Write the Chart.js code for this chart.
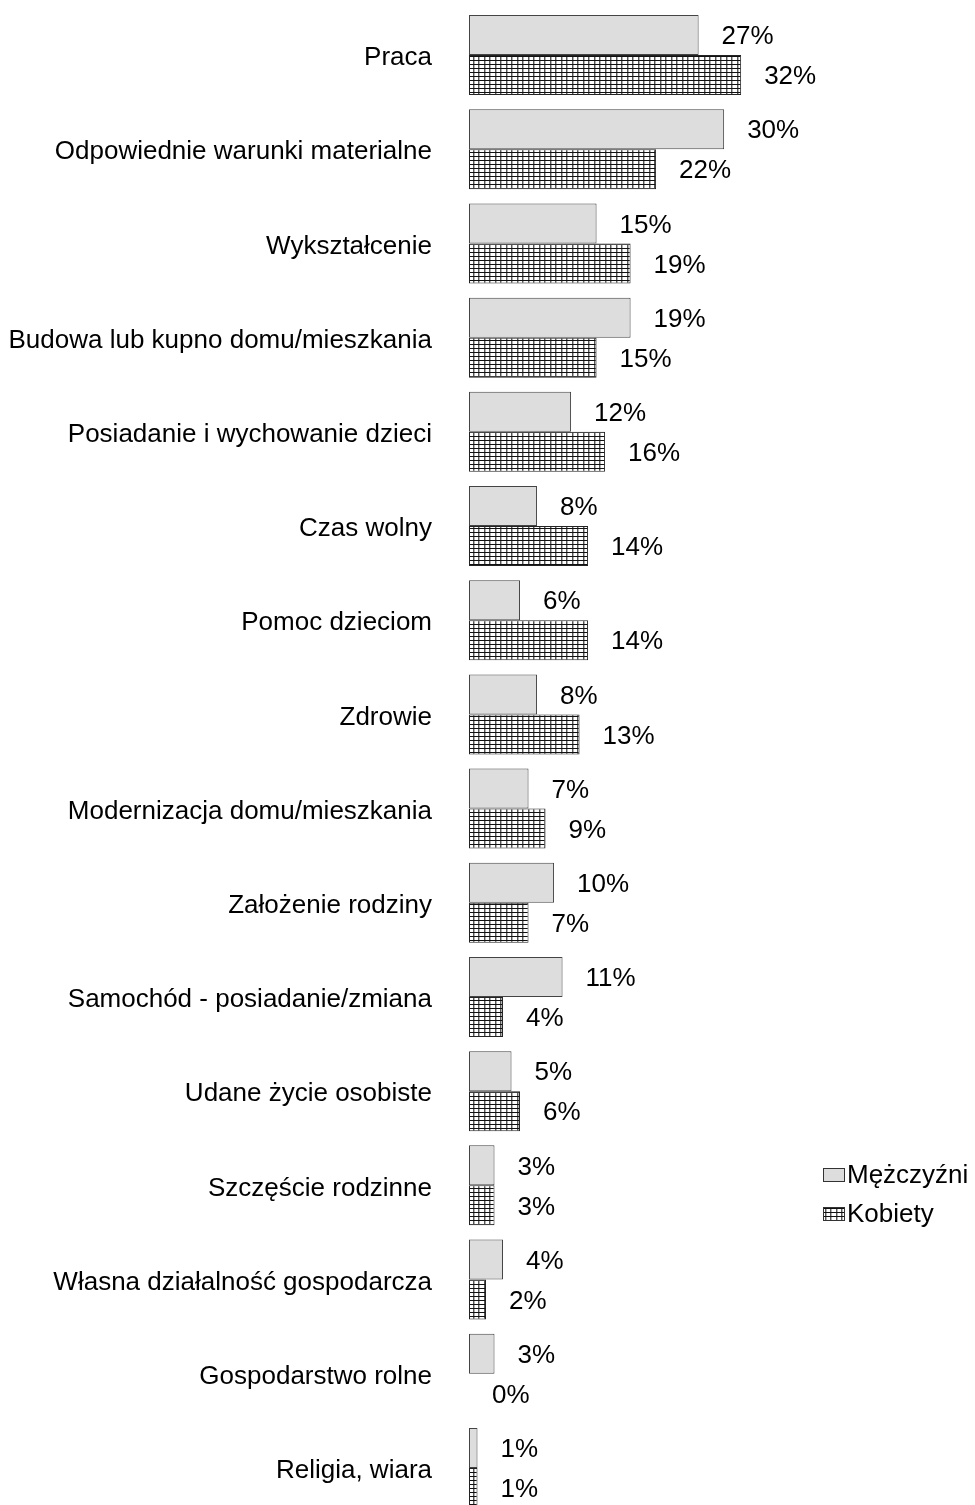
<!DOCTYPE html>
<html lang="pl">
<head>
    <meta charset="UTF-8">
    <title>Wykres</title>
    <script src="https://cdn.jsdelivr.net/npm/chart.js@4.4.1/dist/chart.umd.min.js"></script>
    <style>
        html, body { margin: 0; padding: 0; background: #fff; overflow: hidden; }
    </style>
</head>
<body>
    <canvas id="myChart" width="975" height="1515"></canvas>
    <script>
        const categories = [
            'Praca',
            'Odpowiednie warunki materialne',
            'Wykształcenie',
            'Budowa lub kupno domu/mieszkania',
            'Posiadanie i wychowanie dzieci',
            'Czas wolny',
            'Pomoc dzieciom',
            'Zdrowie',
            'Modernizacja domu/mieszkania',
            'Założenie rodziny',
            'Samochód - posiadanie/zmiana',
            'Udane życie osobiste',
            'Szczęście rodzinne',
            'Własna działalność gospodarcza',
            'Gospodarstwo rolne',
            'Religia, wiara'
        ];
        const men   = [27, 30, 15, 19, 12, 8, 6, 8, 7, 10, 11, 5, 3, 4, 3, 1];
        const women = [32, 22, 19, 15, 16, 14, 14, 13, 9, 7, 4, 6, 3, 2, 0, 1];
        const seriesNames = ['Mężczyźni', 'Kobiety'];

        const FAMILY = '"Liberation Sans", Arial, sans-serif';
        const FONT = '26px ' + FAMILY;

        // grid pattern for the second series (black rows, grey columns)
        function gridPattern() {
            const c = document.createElement('canvas');
            c.width = 11; c.height = 4;
            const g = c.getContext('2d');
            g.fillStyle = '#ffffff';
            g.fillRect(0, 0, 11, 4);
            g.fillStyle = '#555555';
            g.fillRect(0, 0, 1, 4);
            g.fillRect(5, 0, 1, 4);
            g.fillStyle = '#b0b0b0';
            g.fillRect(1, 0, 1, 4);
            g.fillRect(6, 0, 1, 4);
            g.fillStyle = '#111111';
            g.fillRect(0, 0, 11, 1);
            return document.getElementById('myChart').getContext('2d').createPattern(c, 'repeat');
        }
        const hatch = gridPattern();

        const valueLabels = {
            id: 'valueLabels',
            afterDatasetsDraw(chart) {
                const ctx = chart.ctx;
                ctx.save();
                ctx.font = FONT;
                ctx.fillStyle = '#000';
                ctx.textAlign = 'left';
                ctx.textBaseline = 'middle';
                chart.data.datasets.forEach((ds, i) => {
                    chart.getDatasetMeta(i).data.forEach((bar, j) => {
                        ctx.fillText(ds.data[j] + '%', bar.x + 23, bar.y + 2);
                    });
                });
                ctx.restore();
            }
        };

        const sideLegend = {
            id: 'sideLegend',
            afterDraw(chart) {
                const ctx = chart.ctx;
                ctx.save();
                ctx.font = FONT;
                ctx.textBaseline = 'middle';
                ctx.textAlign = 'left';
                const x = 823, y0 = 1175, step = 39;
                chart.data.datasets.forEach((ds, i) => {
                    const y = y0 + i * step;
                    ctx.fillStyle = ds.backgroundColor;
                    ctx.fillRect(x, y - 7, 22, 14);
                    ctx.strokeStyle = '#333';
                    ctx.lineWidth = 1;
                    ctx.strokeRect(x + 0.5, y - 6.5, 21, 13);
                    ctx.fillStyle = '#000';
                    ctx.fillText(ds.label, x + 24, y + 1);
                });
                ctx.restore();
            }
        };

        const ctx = document.getElementById('myChart').getContext('2d');
        const myChart = new Chart(ctx, {
            type: 'bar',
            data: {
                labels: categories,
                datasets: [{
                    label: seriesNames[0],
                    data: men,
                    backgroundColor: '#dddddd',
                    borderColor: '#444444',
                    borderWidth: c => (c.raw === 0 ? 0 : 1),
                    borderSkipped: false
                }, {
                    label: seriesNames[1],
                    data: women,
                    backgroundColor: hatch,
                    borderColor: '#222222',
                    borderWidth: c => (c.raw === 0 ? 0 : 1),
                    borderSkipped: false
                }]
            },
            options: {
                indexAxis: 'y',
                responsive: false,
                animation: false,
                devicePixelRatio: 1,
                layout: { padding: { top: 8, right: 0, bottom: 0, left: 0 } },
                datasets: {
                    bar: { categoryPercentage: 0.85, barPercentage: 1 }
                },
                plugins: {
                    legend: { display: false },
                    tooltip: { enabled: false }
                },
                scales: {
                    x: {
                        display: false,
                        min: 0,
                        max: 59.5
                    },
                    y: {
                        grid: { display: false, drawTicks: false },
                        border: { display: false },
                        ticks: {
                            color: '#000',
                            padding: 37,
                            labelOffset: 3,
                            font: { family: FAMILY, size: 26 }
                        },
                        afterFit(scale) {
                            scale.width = 469;
                            scale.paddingTop = 0;
                            scale.paddingBottom = 0;
                        }
                    }
                }
            },
            plugins: [valueLabels, sideLegend]
        });
    </script>
</body>
</html>
